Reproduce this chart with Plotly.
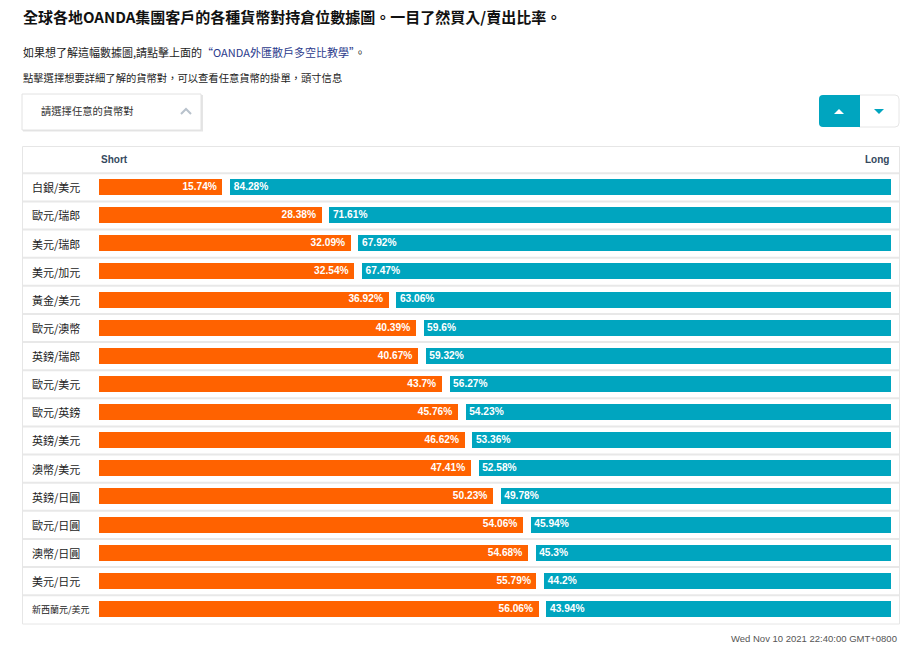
import plotly.graph_objects as go

# ---- data ----
pairs = ["白銀/美元", "歐元/瑞郎", "美元/瑞郎", "美元/加元", "黃金/美元", "歐元/澳幣", "英鎊/瑞郎", "歐元/美元",
         "歐元/英鎊", "英鎊/美元", "澳幣/美元", "英鎊/日圓", "歐元/日圓", "澳幣/日圓", "美元/日元", "新西蘭元/美元"]
short_pct = [15.74, 28.38, 32.09, 32.54, 36.92, 40.39, 40.67, 43.7, 45.76, 46.62, 47.41, 50.23, 54.06, 54.68, 55.79, 56.06]
long_pct = [84.28, 71.61, 67.92, 67.47, 63.06, 59.6, 59.32, 56.27, 54.23, 53.36, 52.58, 49.78, 45.94, 45.3, 44.2, 43.94]

title_text = "全球各地OANDA集團客戶的各種貨幣對持倉位數據圖。一目了然買入/賣出比率。"
timestamp = "Wed Nov 10 2021 22:40:00 GMT+0800"

W, H = 909, 654
ORANGE = "#FF6200"
TEAL = "#00A5BF"
GAP = 1.0  # gap between the two bars, in axis units
PAD_L = 0.7  # label padding inside orange bar, axis units
PAD_R = 0.45  # label padding inside teal bar, axis units
CJK = "Noto Sans CJK TC, Noto Sans CJK SC, sans-serif"
LAT = "Liberation Sans, Arial, sans-serif"


def px(x):
    return x / W


def py(y):
    return 1 - y / H


idx = list(range(len(pairs)))
teal_base = [s + GAP for s in short_pct]
fig = go.Figure()
fig.add_trace(go.Bar(
    y=idx, x=short_pct, base=[0] * len(idx), orientation="h", width=0.57,
    marker=dict(color=ORANGE, line=dict(width=0)),
    hoverinfo="skip", showlegend=False,
))
fig.add_trace(go.Bar(
    y=idx, x=long_pct, base=teal_base, orientation="h", width=0.57,
    marker=dict(color=TEAL, line=dict(width=0)),
    hoverinfo="skip", showlegend=False,
))
fig.add_trace(go.Scatter(
    y=idx, x=[s - PAD_L for s in short_pct], mode="text",
    text=[f"{v}%" for v in short_pct], textposition="middle left",
    textfont=dict(color="white", size=10.2, family=LAT, weight="bold"),
    hoverinfo="skip", showlegend=False, cliponaxis=False,
))
fig.add_trace(go.Scatter(
    y=idx, x=[b + PAD_R for b in teal_base], mode="text",
    text=[f"{v}%" for v in long_pct], textposition="middle right",
    textfont=dict(color="white", size=10.2, family=LAT, weight="bold"),
    hoverinfo="skip", showlegend=False, cliponaxis=False,
))

shapes = []
# table border
shapes.append(dict(type="rect", xref="paper", yref="paper", x0=px(22.5), x1=px(899.5), y0=py(624), y1=py(146.5),
                   line=dict(color="#e6e6e6", width=1), fillcolor="rgba(0,0,0,0)", layer="below"))
# row separators
row_top, row_h = 173.3, 28.125
for k in range(len(pairs)):
    yy = row_top + k * row_h
    shapes.append(dict(type="line", xref="paper", yref="paper", x0=px(23), x1=px(899), y0=py(yy), y1=py(yy),
                       line=dict(color="#e8e8e8", width=2), layer="below"))

# dropdown box with shadow
shapes.append(dict(type="rect", xref="paper", yref="paper", x0=px(23), x1=px(203), y0=py(131.5), y1=py(95),
                   line=dict(width=0), fillcolor="rgba(0,0,0,0.10)", layer="below"))
shapes.append(dict(type="rect", xref="paper", yref="paper", x0=px(22), x1=px(201), y0=py(130), y1=py(94),
                   line=dict(color="#e2e2e2", width=1), fillcolor="white", layer="below"))
# chevron
shapes.append(dict(type="path", xref="paper", yref="paper",
                   path=f"M {px(181)} {py(114)} L {px(186)} {py(109)} L {px(191)} {py(114)}",
                   line=dict(color="#b8c2cc", width=2)))


def rounded(x0, y0, x1, y1, r, left=True, right=True):
    rl = r if left else 0
    rr = r if right else 0
    p = f"M {px(x0 + rl)} {py(y0)} L {px(x1 - rr)} {py(y0)} "
    if rr:
        p += f"Q {px(x1)} {py(y0)} {px(x1)} {py(y0 + rr)} "
    p += f"L {px(x1)} {py(y1 - rr)} "
    if rr:
        p += f"Q {px(x1)} {py(y1)} {px(x1 - rr)} {py(y1)} "
    p += f"L {px(x0 + rl)} {py(y1)} "
    if rl:
        p += f"Q {px(x0)} {py(y1)} {px(x0)} {py(y1 - rl)} "
    p += f"L {px(x0)} {py(y0 + rl)} "
    if rl:
        p += f"Q {px(x0)} {py(y0)} {px(x0 + rl)} {py(y0)} "
    return p + "Z"


# sort buttons
shapes.append(dict(type="path", xref="paper", yref="paper", path=rounded(859, 95, 899, 127, 4, left=False),
                   line=dict(color="#e6e6e6", width=1), fillcolor="white"))
shapes.append(dict(type="path", xref="paper", yref="paper", path=rounded(819, 95, 860, 127, 4, right=False),
                   line=dict(width=0), fillcolor=TEAL))
shapes.append(dict(type="path", xref="paper", yref="paper",
                   path=f"M {px(834)} {py(114)} L {px(844)} {py(114)} L {px(839)} {py(109)} Z",
                   line=dict(width=0), fillcolor="white"))
shapes.append(dict(type="path", xref="paper", yref="paper",
                   path=f"M {px(874)} {py(109)} L {px(884)} {py(109)} L {px(879)} {py(114)} Z",
                   line=dict(width=0), fillcolor=TEAL))

annotations = []
annotations.append(dict(xref="paper", yref="paper", x=px(21), y=py(17), xanchor="left", yanchor="middle",
                        text=f"<b>{title_text}</b>", showarrow=False,
                        font=dict(family=CJK, size=15, color="#111111")))
annotations.append(dict(xref="paper", yref="paper", x=px(21), y=py(52), xanchor="left", yanchor="middle",
                        text="如果想了解這幅數據圖,請點擊上面的<span style='color:#2b3a8c'>“OANDA外匯散戶多空比教學”</span>。",
                        showarrow=False, font=dict(family=CJK, size=11, color="#222222")))
annotations.append(dict(xref="paper", yref="paper", x=px(21), y=py(78), xanchor="left", yanchor="middle",
                        text="點擊選擇想要詳細了解的貨幣對，可以查看任意貨幣的掛單，頭寸信息",
                        showarrow=False, font=dict(family=CJK, size=10.3, color="#222222")))
annotations.append(dict(xref="paper", yref="paper", x=px(39), y=py(111), xanchor="left", yanchor="middle",
                        text="請選擇任意的貨幣對", showarrow=False,
                        font=dict(family=CJK, size=10.3, color="#333333")))
annotations.append(dict(xref="paper", yref="paper", x=px(99), y=py(160), xanchor="left", yanchor="middle",
                        text="<b>Short</b>", showarrow=False, font=dict(family=LAT, size=10, color="#34495e")))
annotations.append(dict(xref="paper", yref="paper", x=px(891), y=py(160), xanchor="right", yanchor="middle",
                        text="<b>Long</b>", showarrow=False, font=dict(family=LAT, size=10, color="#34495e")))
for i, name in enumerate(pairs):
    annotations.append(dict(xref="paper", yref="y", x=px(30), y=i, xanchor="left", yanchor="middle",
                            text=name, showarrow=False,
                            font=dict(family=CJK, size=11 if len(name) <= 5 else 9, color="#222222")))
annotations.append(dict(xref="paper", yref="paper", x=px(899), y=py(638), xanchor="right", yanchor="middle",
                        text=timestamp, showarrow=False, font=dict(family=LAT, size=9.5, color="#555555")))

fig.update_layout(
    width=W, height=H, margin=dict(l=0, r=0, t=0, b=0),
    paper_bgcolor="white", plot_bgcolor="white",
    barmode="overlay", bargap=0,
    xaxis=dict(domain=[px(99), px(891)], range=[0, 100 + GAP], visible=False, fixedrange=True),
    yaxis=dict(domain=[py(623.3), py(173.3)], range=[len(pairs) - 0.5, -0.5], visible=False, fixedrange=True),
    shapes=shapes, annotations=annotations, showlegend=False,
)

fig.write_html("out.html", config={"displayModeBar": False},
               post_script="document.body.style.margin='0';document.body.style.overflow='hidden';")
